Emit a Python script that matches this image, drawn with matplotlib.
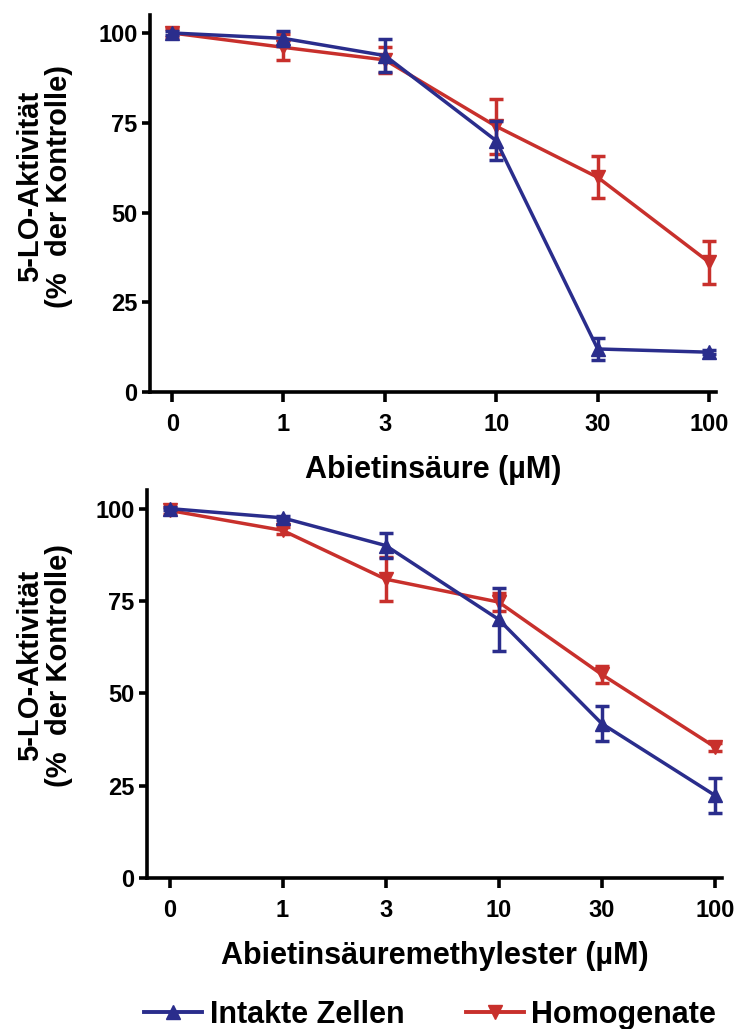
import matplotlib
matplotlib.use("Agg")
import matplotlib.pyplot as plt
from matplotlib.lines import Line2D

plt.rcParams["font.family"] = ["Liberation Sans", "DejaVu Sans"]
plt.rcParams["font.weight"] = "bold"

# Konzentrationen (µM); die Kontrolle "0" liegt auf der log-Achse bei 0.3
conc_pos = [0.3, 1, 3, 10, 30, 100]
conc_labels = ["0", "1", "3", "10", "30", "100"]

# Abietinsäure
acid_intakt = [100, 98.5, 93.7, 70.0, 12.0, 11.1]
acid_intakt_err = [0.5, 2.0, 4.6, 5.4, 3.0, 0.5]
acid_homog = [100, 96.0, 92.5, 74.0, 59.8, 36.2]
acid_homog_err = [1.0, 3.6, 3.6, 7.7, 5.8, 6.0]

# Abietinsäuremethylester
ester_intakt = [100, 97.5, 90.0, 70.0, 41.8, 22.4]
ester_intakt_err = [0.5, 0.5, 3.4, 8.5, 4.8, 4.7]
ester_homog = [99.5, 94.1, 80.9, 74.7, 55.1, 35.5]
ester_homog_err = [1.0, 1.0, 6.0, 2.5, 2.4, 1.0]

BLUE = "#2A2D8C"
RED = "#C8302C"
ylab = "5-LO-Aktivität\n(%  der Kontrolle)"

fig = plt.figure(figsize=(7.42, 10.29), dpi=100)
ax1 = fig.add_axes([0.2022, 0.619, 0.7628, 0.3664])
ax2 = fig.add_axes([0.1981, 0.1467, 0.775, 0.377])


def panel(ax, intakt, intakt_err, homog, homog_err, xlabel):
    ax.errorbar(conc_pos, homog, yerr=homog_err, color=RED, marker="v",
                markersize=10.5, lw=2.5, elinewidth=2.5, capsize=5, capthick=2.5,
                zorder=3)
    ax.errorbar(conc_pos, intakt, yerr=intakt_err, color=BLUE, marker="^",
                markersize=10.5, lw=2.5, elinewidth=2.5, capsize=5, capthick=2.5,
                zorder=4)
    ax.set_xscale("log")
    ax.set_xlim(0.236, 108)
    ax.set_ylim(0, 105)
    ax.set_xticks(conc_pos)
    ax.set_xticklabels(conc_labels)
    ax.minorticks_off()
    ax.set_yticks([0, 25, 50, 75, 100])
    for s in ["top", "right"]:
        ax.spines[s].set_visible(False)
    for s in ["left", "bottom"]:
        ax.spines[s].set_linewidth(2.6)
    ax.tick_params(axis="y", length=6, width=2.6, labelsize=17, pad=3)
    ax.tick_params(axis="x", length=7, width=2.6, labelsize=17, pad=8)
    for lab in ax.get_xticklabels() + ax.get_yticklabels():
        lab.set_fontweight("bold")
    ax.set_xlabel(xlabel, fontsize=22, fontweight="bold", labelpad=14)
    ax.set_ylabel(ylab, fontsize=21, fontweight="bold", va="center",
                  multialignment="center", linespacing=1.05)
    ax.yaxis.set_label_coords(-0.186, 0.546)


panel(ax1, acid_intakt, acid_intakt_err, acid_homog, acid_homog_err,
      "Abietinsäure (µM)")
panel(ax2, ester_intakt, ester_intakt_err, ester_homog, ester_homog_err,
      "Abietinsäuremethylester (µM)")
ax2.yaxis.set_label_coords(-0.178, 0.549)

handles = [
    Line2D([], [], color=BLUE, marker="^", markersize=10.5, lw=2.8),
    Line2D([], [], color=RED, marker="v", markersize=10.5, lw=2.8),
]
fig.legend(handles, ["Intakte Zellen", "Homogenate"], loc="center",
           bbox_to_anchor=(0.58, 0.014), ncol=2, frameon=False,
           handlelength=1.9, handletextpad=0.25, columnspacing=2.0,
           prop={"weight": "bold", "size": 22})

fig.savefig("out.png", dpi=100, facecolor="white")
